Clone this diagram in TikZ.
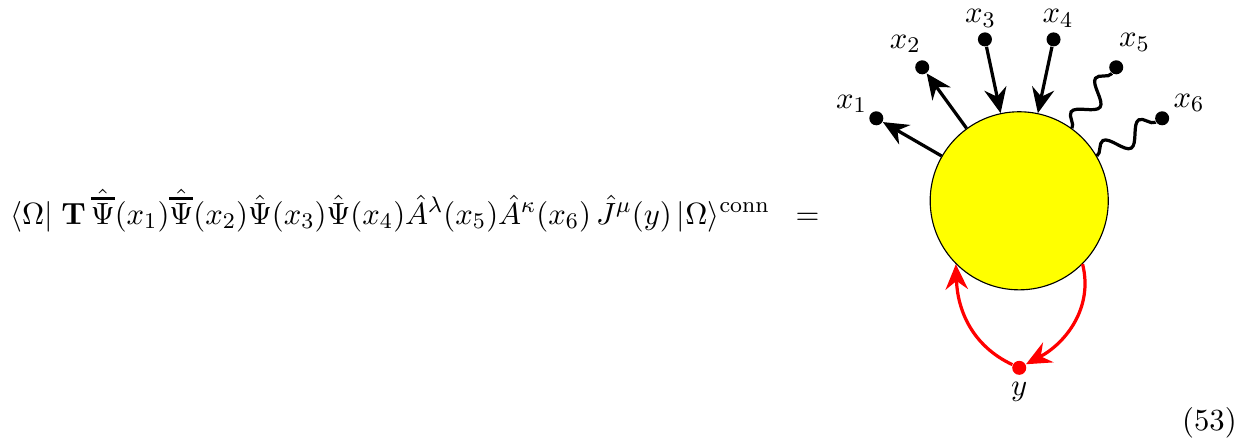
\documentclass[11pt,tikz,border=0pt]{standalone}
\usepackage{amsmath,amssymb}
\usepackage{tikz}
\usetikzlibrary{arrows.meta,positioning,calc,decorations.pathmorphing}

\definecolor{blobyellow}{RGB}{255,255,0}
\definecolor{currentred}{RGB}{255,0,0}
\newcommand{\thickbarpsi}{\hat{\vbox{\hrule height 1.1pt\kern 1.1pt\hbox{$\Psi$}}}}

\begin{document}
\begin{tikzpicture}[>=Stealth,
  blob/.style={circle, draw, thin, fill=blobyellow, minimum size=2.234cm, inner sep=0pt},
  vertex/.style={circle, fill, minimum size=0.176cm, inner sep=0pt},
  fermion/.style={-{Stealth[length=9pt, width=8pt, inset=3pt]}, line width=1.15pt},
  photon/.style={line width=1.15pt, decorate, decoration={snake, amplitude=0.13cm, segment length=0.52cm}},
  current/.style={-{Stealth[length=9pt, width=8pt, inset=3pt]}, line width=1.15pt, currentred}]

  \useasboundingbox (0,0) rectangle (15.78,5.58);

  % Left-hand side of the equation
  \node[anchor=base west, inner sep=0pt] (lhs) at (0.12,2.77)
    {$\langle\Omega|\;\mathbf{T}\,\thickbarpsi(x_1)\thickbarpsi(x_2)\hat\Psi(x_3)\hat\Psi(x_4)\hat A^\lambda(x_5)\hat A^\kappa(x_6)\,\hat J^\mu(y)\,|\Omega\rangle^{\rm conn}\;\;=$};

  % Blob
  \node[blob] (blob) at (12.785,3.061) {};

  % External points
  \node[vertex] (p1) at ($(blob)+(150:2.07)$) {};
  \node[vertex] (p2) at ($(blob)+(126:2.07)$) {};
  \node[vertex] (p3) at ($(blob)+(102:2.07)$) {};
  \node[vertex] (p4) at ($(blob)+(78:2.07)$) {};
  \node[vertex] (p5) at ($(blob)+(54:2.07)$) {};
  \node[vertex] (p6) at ($(blob)+(30:2.07)$) {};
  \node (l1) at ($(blob)+(150:2.43)$) {$x_1$};
  \node (l2) at ($(blob)+(126:2.43)$) {$x_2$};
  \node (l3) at ($(blob)+(102:2.34)$) {$x_3$};
  \node (l4) at ($(blob)+(78:2.34)$) {$x_4$};
  \node (l5) at ($(blob)+(54:2.46)$) {$x_5$};
  \node (l6) at ($(blob)+(30:2.46)$) {$x_6$};

  % Current insertion
  \node[vertex, currentred] (y) at (12.785,0.966) {};
  \node[below=-1.5pt of y] (ly) {$y$};

  % Lines
  \draw[fermion] (blob.150) -- (p1);
  \draw[fermion] (blob.126) -- (p2);
  \draw[fermion] (p3) -- (blob.102);
  \draw[fermion] (p4) -- (blob.78);
  \draw[photon] (blob.54) -- (p5);
  \draw[photon] (blob.30) -- (p6);
  \draw[current] (y) to[out=155, in=-88] (blob.225);
  \draw[current] (blob.-45) to[out=-76, in=28] (y);

  % Equation number
  \node[anchor=base east, inner sep=0pt] (eqno) at (15.52,0.176) {(53)};
\end{tikzpicture}
\end{document}
